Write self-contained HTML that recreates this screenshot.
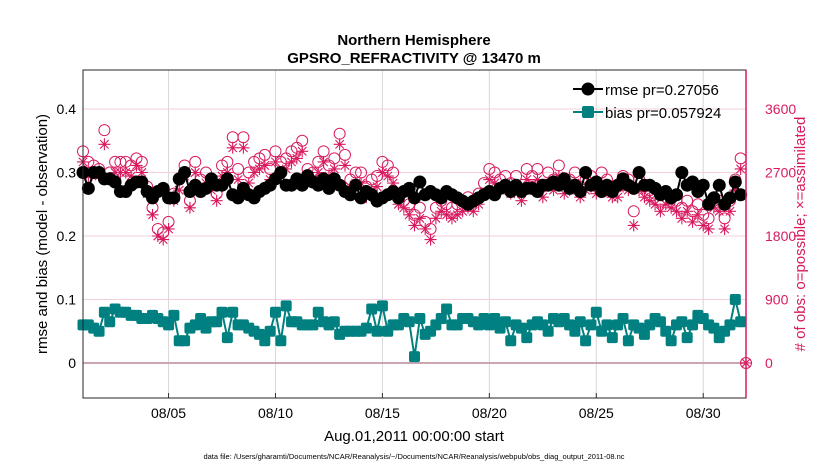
<!DOCTYPE html>
<html><head><meta charset="utf-8"><style>
body{margin:0;background:#fff;}
svg{display:block;font-family:"Liberation Sans",sans-serif;}
</style></head><body>
<svg id="chart" width="830" height="470">
<text x="414" y="45" text-anchor="middle" font-size="15" font-weight="bold">Northern Hemisphere</text>
<text x="414" y="63" text-anchor="middle" font-size="15" font-weight="bold">GPSRO_REFRACTIVITY @ 13470 m</text>
<g id="grid"></g><g id="marks"></g><g id="axes"></g>
<text transform="translate(47,234) rotate(-90)" text-anchor="middle" font-size="15">rmse and bias (model - observation)</text>
<text transform="translate(805,234) rotate(-90)" text-anchor="middle" font-size="15" fill="#d81b60"># of obs: o=possible; ×=assimilated</text>
<text x="414" y="441" text-anchor="middle" font-size="15">Aug.01,2011 00:00:00 start</text>
<text x="414" y="459" text-anchor="middle" font-size="7.5">data file: /Users/gharamti/Documents/NCAR/Reanalysis/~/Documents/NCAR/Reanalysis/webpub/obs_diag_output_2011-08.nc</text>
<g>
<line x1="573" y1="89" x2="603" y2="89" stroke="#000" stroke-width="2"/><circle cx="588" cy="89" r="6.5" fill="#000"/>
<text x="605" y="95" font-size="15">rmse pr=0.27056</text>
<line x1="573" y1="112" x2="603" y2="112" stroke="#008080" stroke-width="2"/><rect x="582" y="106" width="12" height="12" rx="2" fill="#008080"/>
<text x="605" y="118" font-size="15">bias pr=0.057924</text>
</g>
</svg>
<script>
const rmse=[0.30,0.275,0.30,0.30, 0.29,0.29,0.285,0.27, 0.27,0.28,0.285,0.285, 0.27,0.26,0.27,0.275, 0.26,0.26,0.29,0.30, 0.27,0.28,0.27,0.275, 0.29,0.28,0.28,0.29, 0.265,0.26,0.275,0.265, 0.26,0.27,0.275,0.28, 0.29,0.30,0.28,0.28, 0.29,0.28,0.295,0.285, 0.28,0.29,0.275,0.29, 0.28,0.27,0.265,0.28, 0.26,0.27,0.265,0.255, 0.26,0.265,0.27,0.26, 0.27,0.275,0.26,0.285, 0.265,0.27,0.265,0.26, 0.27,0.265,0.26,0.255, 0.25,0.255,0.26,0.265, 0.27,0.265,0.275,0.28, 0.27,0.28,0.27,0.275, 0.275,0.27,0.28,0.28, 0.285,0.28,0.29,0.275, 0.28,0.27,0.30,0.28, 0.285,0.27,0.28,0.27, 0.28,0.29,0.28,0.275, 0.30,0.28,0.28,0.275, 0.265,0.27,0.26,0.265, 0.30,0.28,0.285,0.27, 0.28,0.25,0.26,0.28, 0.25,0.26,0.285,0.265, null];
const bias=[0.06,0.06,0.055,0.05, 0.08,0.065,0.085,0.08, 0.08,0.075,0.075,0.07, 0.07,0.075,0.07,0.065, 0.06,0.075,0.035,0.035, 0.055,0.06,0.07,0.055, 0.065,0.065,0.08,0.04, 0.08,0.06,0.06,0.055, 0.05,0.045,0.035,0.05, 0.08,0.035,0.09,0.065, 0.065,0.06,0.06,0.06, 0.08,0.065,0.06,0.065, 0.045,0.05,0.05,0.05, 0.05,0.055,0.085,0.05, 0.09,0.05,0.06,0.06, 0.07,0.065,0.01,0.07, 0.045,0.05,0.06,0.07, 0.085,0.06,0.06,0.07, 0.07,0.065,0.06,0.07, 0.06,0.07,0.055,0.065, 0.035,0.06,0.055,0.04, 0.06,0.065,0.06,0.05, 0.07,0.065,0.07,0.06, 0.05,0.065,0.035,0.06, 0.08,0.05,0.06,0.04, 0.06,0.07,0.035,0.06, 0.055,0.045,0.06,0.07, 0.065,0.05,0.035,0.06, 0.065,0.04,0.06,0.075, 0.07,0.06,0.055,0.04, 0.05,0.06,0.10,0.065, null];
const possible=[3000,2850,2800,2750, 3300,2700,2850,2850, 2850,2800,2900,2850, 2500,2200,1900,1850, 2000,2400,2600,2800, 2300,2850,2600,2700, 2600,2400,2800,2850, 3200,2750,3200,2700, 2850,2900,2950,2750, 3000,2850,2900,3000, 3050,3150,2750,2700, 2850,3000,2800,2900, 3250,2950,2600,2700, 2700,2500,2600,2650, 2850,2800,2700,2400, 2300,2250,2100,2200, 2000,1900,2200,2300, 2250,2200,2250,2300, 2350,2300,2400,2550, 2750,2700,2600,2650, 2550,2650,2450,2750, 2650,2750,2500,2700, 2600,2800,2550,2600, 2700,2500,2600,2650, 2550,2700,2600,2500, 2500,2650,2600,2150, 2600,2500,2450,2400, 2300,2400,2350,2300, 2200,2300,2150,2250, 2100,2050,2350,2300, 2050,2300,2600,2900, 0];
const assimilated=[2850,2650,2700,2650, 3100,2600,2700,2700, 2700,2650,2800,2700, 2400,2100,1800,1750, 1900,2300,2450,2650, 2200,2700,2450,2550, 2450,2300,2650,2700, 3050,2600,3050,2550, 2700,2750,2800,2600, 2850,2700,2750,2850, 2900,3000,2600,2600, 2700,2850,2650,2750, 3100,2800,2500,2550, 2550,2350,2450,2500, 2700,2650,2550,2250, 2200,2100,1950,2050, 1900,1750,2050,2150, 2100,2050,2100,2150, 2200,2150,2250,2400, 2600,2550,2450,2500, 2400,2500,2300,2600, 2500,2600,2350,2550, 2450,2650,2400,2450, 2550,2350,2450,2500, 2400,2550,2450,2350, 2350,2500,2450,1950, 2450,2350,2300,2250, 2150,2250,2200,2150, 2050,2150,2000,2100, 1950,1900,2200,2150, 1900,2150,2450,2750, 0];
const leftTicks=[0,0.1,0.2,0.3,0.4];
const rightTicks=[0,900,1800,2700,3600];
const xTickDays=[4,9,14,19,24,29];
const xTickLabels=["08/05","08/10","08/15","08/20","08/25","08/30"];

const L=83,R=746,T=70,B=398;
const yL=v=>363-v*635;
const yR=c=>yL(c/9000);
const xD=d=>L+d*(R-L)/31;
const xI=i=>xD(i*0.25);
const NS="http://www.w3.org/2000/svg";
function mk(parent,tag,attrs){const e=document.createElementNS(NS,tag);for(const k in attrs)e.setAttribute(k,attrs[k]);parent.appendChild(e);return e;}
const grid=document.getElementById('grid'),marks=document.getElementById('marks'),axes=document.getElementById('axes');
mk(grid,'rect',{x:L,y:T,width:R-L,height:B-T,fill:'#fff'});
xTickDays.forEach((d,i)=>{
  const g=mk(grid,'line',{x1:xD(d),x2:xD(d),y1:T,y2:B,stroke:'#d8d8d8','stroke-width':1});
  
  
  const t=mk(axes,'text',{x:xD(d),y:B+20,'text-anchor':'middle','font-size':14});
  t.textContent=xTickLabels[i];
  
  
  mk(axes,'line',{x1:xD(d),x2:xD(d),y1:B,y2:B-5,stroke:'#333'});
});
rightTicks.forEach(c=>{
  const g=mk(grid,'line',{x1:L,x2:R,y1:yR(c),y2:yR(c),stroke:c===0?'#c9a6b0':'#f3cfdc','stroke-width':c===0?2:1});
  
  
  const t=mk(axes,'text',{x:R+19,y:yR(c)+5,'font-size':14,fill:'#d81b60'});
  t.textContent=String(c);
  
  
});
leftTicks.forEach(v=>{
  const t=mk(axes,'text',{x:L-7,y:yL(v)+5,'text-anchor':'end','font-size':14});
  t.textContent=v===0?'0':String(v);
  
  
});
possible.forEach((c,i)=>{
  const e=mk(marks,'circle',{cx:xI(i),cy:yR(c),r:5.5,fill:'none',stroke:'#d81b60','stroke-width':1});
  
  
});
assimilated.forEach((c,i)=>{
  const x=xI(i),y=yR(c),r=6;
  const g=mk(marks,'path',{d:`M${x-r} ${y}H${x+r}M${x} ${y-r}V${y+r}M${x-4.2} ${y-4.2}L${x+4.2} ${y+4.2}M${x-4.2} ${y+4.2}L${x+4.2} ${y-4.2}`,stroke:'#d81b60','stroke-width':1.1,fill:'none'});
  
  
});
function series(arr,color,name,shape){
  let d='';arr.forEach((v,i)=>{if(v!==null)d+=(d?'L':'M')+xI(i)+' '+yL(v);});
  const p=mk(marks,'path',{d:d,stroke:color,'stroke-width':2,fill:'none'});
  
  
  arr.forEach((v,i)=>{if(v===null)return;
    let m;
    if(shape==='c')m=mk(marks,'circle',{cx:xI(i),cy:yL(v),r:6.5,fill:color});
    else m=mk(marks,'rect',{x:xI(i)-5.5,y:yL(v)-5.5,width:11,height:11,rx:2,fill:color});
    
    
  });
}
series(rmse,'#000','rmse','c');
series(bias,'#008080','bias','s');
mk(axes,'rect',{x:L,y:T,width:R-L,height:B-T,fill:'none',stroke:'#262626','stroke-width':1});
mk(axes,'line',{x1:R,x2:R,y1:T,y2:B,stroke:'#d81b60','stroke-width':1.5});
</script>
</body></html>
